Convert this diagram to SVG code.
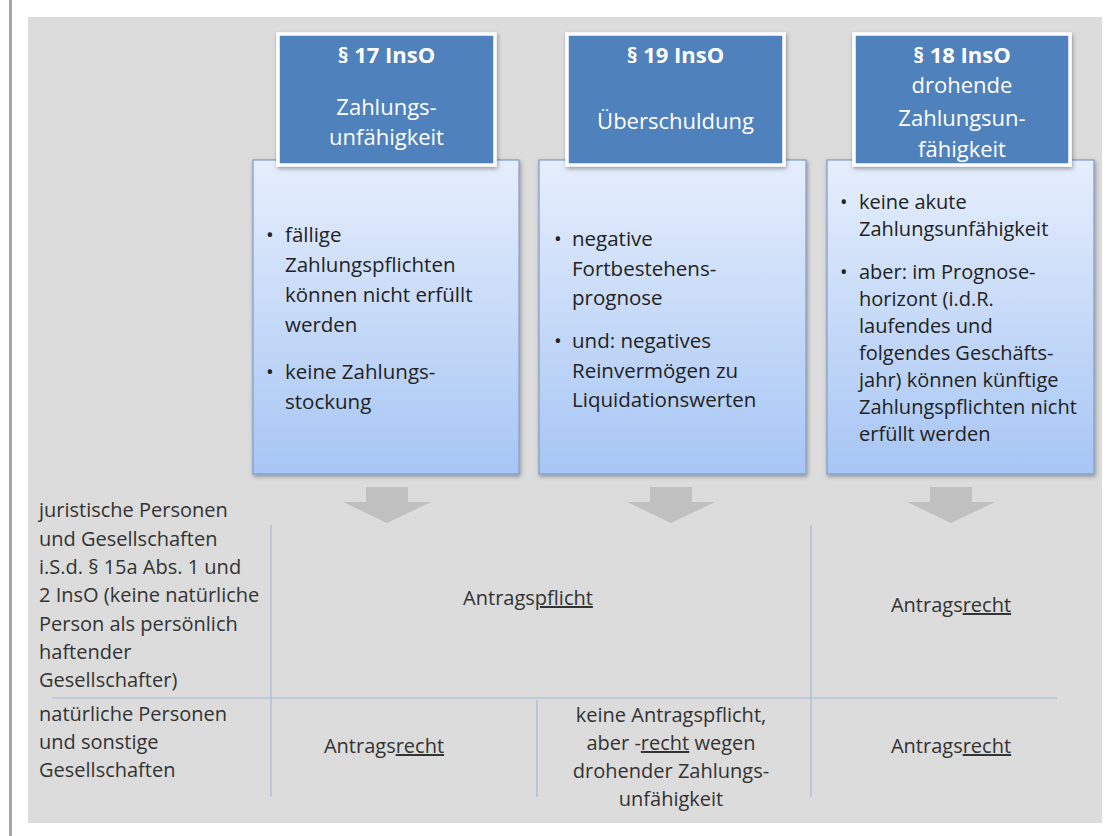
<svg xmlns="http://www.w3.org/2000/svg" width="1116" height="836" viewBox="0 0 1116 836">
<defs>
<linearGradient id="lightGrad" x1="0" y1="0" x2="0" y2="1">
<stop offset="0" stop-color="#e6eefc"/>
<stop offset="1" stop-color="#a7c6f5"/>
</linearGradient>
<filter id="shadow" x="-10%" y="-10%" width="125%" height="125%">
<feDropShadow dx="1" dy="2" stdDeviation="2" flood-color="#000" flood-opacity="0.35"/>
</filter>
</defs>
<style>
text { font-family: "Open Sans", "Noto Sans", "Liberation Sans", sans-serif; }
.hdr { fill: #4f81bd; stroke: #ffffff; stroke-width: 3.5; filter: url(#shadow); }
.hdrT { fill: #ffffff; font-size: 22px; text-anchor: middle; }
.hdrB { fill: #ffffff; font-size: 22px; font-weight: bold; text-anchor: middle; }
.box { fill: url(#lightGrad); stroke: #7d9ccc; stroke-width: 1.2; filter: url(#shadow); }
.bT { fill: #222222; font-size: 20.5px; }
.bT3 { fill: #222222; font-size: 20px; }
.tT { fill: #333333; font-size: 20px; }
.tC { fill: #333333; font-size: 20px; text-anchor: middle; }
.u { text-decoration: underline; }
.arrow { fill: #c0c0c0; }
.grid { stroke: #a4b9da; stroke-width: 1.2; fill: none; }
</style>
<rect x="9" y="0" width="3" height="836" fill="#a6a6a6"/>
<rect x="28" y="17" width="1074" height="806" fill="#dcdcdc"/>

<g id="box17">
<rect class="box" x="253" y="160" width="266" height="314"/>
<text class="bT" x="266" y="242">•</text>
<text class="bT" x="285" y="242">fällige</text>
<text class="bT" x="285" y="272">Zahlungspflichten</text>
<text class="bT" x="285" y="302">können nicht erfüllt</text>
<text class="bT" x="285" y="332">werden</text>
<text class="bT" x="266" y="379">•</text>
<text class="bT" x="285" y="379">keine Zahlungs-</text>
<text class="bT" x="285" y="409">stockung</text>
</g>
<g id="head17">
<rect class="hdr" x="278" y="34" width="217" height="131"/>
<text class="hdrB" x="386.5" y="63">§ 17 InsO</text>
<text class="hdrT" x="386.5" y="115">Zahlungs-</text>
<text class="hdrT" x="386.5" y="145">unfähigkeit</text>
</g>

<g id="box19">
<rect class="box" x="539" y="160" width="267" height="314"/>
<text class="bT" x="554" y="246">•</text>
<text class="bT" x="572" y="246">negative</text>
<text class="bT" x="572" y="275.5">Fortbestehens-</text>
<text class="bT" x="572" y="305">prognose</text>
<text class="bT" x="554" y="348">•</text>
<text class="bT" x="572" y="348">und: negatives</text>
<text class="bT" x="572" y="377.5">Reinvermögen zu</text>
<text class="bT" x="572" y="407">Liquidationswerten</text>
</g>
<g id="head19">
<rect class="hdr" x="567" y="34" width="217" height="131"/>
<text class="hdrB" x="675.5" y="63">§ 19 InsO</text>
<text class="hdrT" x="675.5" y="129">Überschuldung</text>
</g>

<g id="box18">
<rect class="box" x="827" y="160" width="267" height="314"/>
<text class="bT3" x="840" y="209">•</text>
<text class="bT3" x="859" y="209">keine akute</text>
<text class="bT3" x="859" y="236">Zahlungsunfähigkeit</text>
<text class="bT3" x="840" y="279">•</text>
<text class="bT3" x="859" y="279">aber: im Prognose-</text>
<text class="bT3" x="859" y="306">horizont (i.d.R.</text>
<text class="bT3" x="859" y="333">laufendes und</text>
<text class="bT3" x="859" y="360">folgendes Geschäfts-</text>
<text class="bT3" x="859" y="387">jahr) können künftige</text>
<text class="bT3" x="859" y="414">Zahlungspflichten nicht</text>
<text class="bT3" x="859" y="441">erfüllt werden</text>
</g>
<g id="head18">
<rect class="hdr" x="854" y="34" width="216" height="131"/>
<text class="hdrB" x="962" y="63">§ 18 InsO</text>
<text class="hdrT" x="962" y="93">drohende</text>
<text class="hdrT" x="962" y="126">Zahlungsun-</text>
<text class="hdrT" x="962" y="157">fähigkeit</text>
</g>

<g id="connectors">
<polygon class="arrow" points="366,487 408,487 408,502 431,502 387,523 343,502 366,502"/>
<polygon class="arrow" points="650,487 692,487 692,502 715,502 671,523 627,502 650,502"/>
<polygon class="arrow" points="930,487 972,487 972,502 995,502 951,523 907,502 930,502"/>
</g>

<g id="table">
<line class="grid" x1="271" y1="525" x2="271" y2="797"/>
<line class="grid" x1="811" y1="525" x2="811" y2="797"/>
<line class="grid" x1="52" y1="698" x2="1057" y2="698"/>
<line class="grid" x1="537" y1="700" x2="537" y2="797"/>
</g>

<g id="row-juristische">
<text class="tT" x="39" y="517">juristische Personen</text>
<text class="tT" x="39" y="546">und Gesellschaften</text>
<text class="tT" x="39" y="574">i.S.d. § 15a Abs. 1 und</text>
<text class="tT" x="39" y="602">2 InsO (keine natürliche</text>
<text class="tT" x="39" y="631">Person als persönlich</text>
<text class="tT" x="39" y="659">haftender</text>
<text class="tT" x="39" y="687">Gesellschafter)</text>
<text class="tC" x="528" y="605">Antrags<tspan class="u">pflicht</tspan></text>
<text class="tC" x="951" y="612">Antrags<tspan class="u">recht</tspan></text>
</g>

<g id="row-natuerliche">
<text class="tT" x="39" y="721">natürliche Personen</text>
<text class="tT" x="39" y="749">und sonstige</text>
<text class="tT" x="39" y="777">Gesellschaften</text>
<text class="tC" x="384" y="753">Antrags<tspan class="u">recht</tspan></text>
<text class="tC" x="671" y="722">keine Antragspflicht,</text>
<text class="tC" x="671" y="750">aber -<tspan class="u">recht</tspan> wegen</text>
<text class="tC" x="671" y="778">drohender Zahlungs-</text>
<text class="tC" x="671" y="806">unfähigkeit</text>
<text class="tC" x="951" y="753">Antrags<tspan class="u">recht</tspan></text>
</g>
</svg>
